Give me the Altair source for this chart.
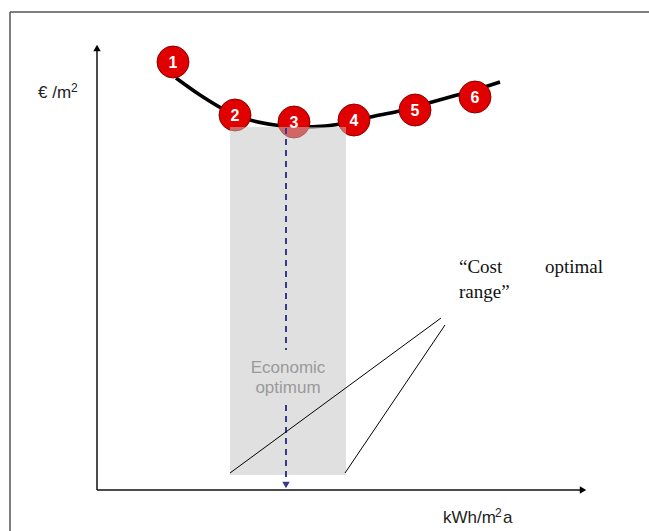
import altair as alt
import pandas as pd

W, H = 649, 531

# Diagram coordinates (x to the right, y downward, same units as the picture)
point_labels = ["1", "2", "3", "4", "5", "6"]
point_x = [173, 235, 294, 354, 415, 475]
point_y = [62, 115, 122, 120, 110, 97]

curve_x = [176, 200, 225, 250, 275, 300, 325, 350, 375, 400, 425, 450, 475, 500]
curve_y = [78, 95, 110, 120, 125, 127, 126, 122, 116, 111, 104, 97, 90, 82]

range_x = [230, 346]
range_y = [127, 475]

optimum_x = 286
optimum_seg_y1 = [128, 405]
optimum_seg_y2 = [350, 482]

fan_x1 = [230, 345]
fan_y1 = [473, 473]
fan_x2 = [441, 445]
fan_y2 = [318, 325]

axis_origin = (97, 490)
axis_y_top = 50
axis_x_end = 580

frame_left, frame_top = 10, 12

xs = alt.Scale(domain=[0, W], range=[0, W])


def X(f="x"):
    return alt.X(f"{f}:Q", scale=xs, axis=None)


def Y(f="y"):
    return alt.Y(f"{f}:Q", scale=alt.Scale(domain=[H, 0]), axis=None)


pts = pd.DataFrame({"x": point_x, "y": point_y, "label": point_labels})
curve = pd.DataFrame({"x": curve_x, "y": curve_y})
rect = pd.DataFrame({"x": [range_x[0]], "x2": [range_x[1]], "y": [range_y[0]], "y2": [range_y[1]]})
fan = pd.DataFrame({"x": fan_x1, "y": fan_y1, "x2": fan_x2, "y2": fan_y2})
opt = pd.DataFrame({"x": [optimum_x, optimum_x], "y": optimum_seg_y1, "y2": optimum_seg_y2})
axes = pd.DataFrame({
    "x": [axis_origin[0], axis_origin[0]],
    "y": [axis_origin[1], axis_origin[1]],
    "x2": [axis_origin[0], axis_x_end],
    "y2": [axis_y_top, axis_origin[1]],
})
frame = pd.DataFrame({
    "x": [frame_left, frame_left],
    "y": [frame_top, frame_top],
    "x2": [frame_left, W],
    "y2": [H, frame_top],
})
arrows = pd.DataFrame({
    "x": [axis_origin[0], axis_x_end + 3, optimum_x],
    "y": [axis_y_top - 2, axis_origin[1], optimum_seg_y2[1] + 3],
    "shape": ["triangle-up", "triangle-right", "triangle-down"],
    "color": ["black", "black", "#3a3a8c"],
})

frame_l = alt.Chart(frame).mark_rule(color="#555555", strokeWidth=1.5).encode(
    x=X(), y=Y(), x2="x2:Q", y2="y2:Q")
axes_l = alt.Chart(axes).mark_rule(color="#111111", strokeWidth=1.5).encode(
    x=X(), y=Y(), x2="x2:Q", y2="y2:Q")
arrow_l = alt.Chart(arrows).mark_point(filled=True, size=55, opacity=1).encode(
    x=X(), y=Y(), shape=alt.Shape("shape:N", scale=None, legend=None),
    color=alt.Color("color:N", scale=None, legend=None))

curve_l = alt.Chart(curve).mark_line(color="black", strokeWidth=3.5, interpolate="monotone").encode(
    x=X(), y=Y())
circ_l = alt.Chart(pts).mark_point(filled=True, size=1020, color="#e10000", opacity=1,
                                   stroke="#8a0000", strokeWidth=1).encode(x=X(), y=Y())
num_l = alt.Chart(pts).mark_text(color="white", fontSize=16, fontWeight="bold",
                                 font="Liberation Sans Narrow, Liberation Sans", dy=1).encode(
    x=X(), y=Y(), text="label:N")

rect_l = alt.Chart(rect).mark_rect(color="#c4c4c4", opacity=0.52).encode(
    x=X(), x2="x2:Q", y=Y(), y2="y2:Q")
opt_l = alt.Chart(opt).mark_rule(color="#3a3a8c", strokeWidth=2, strokeDash=[6, 5]).encode(
    x=X(), y=Y(), y2="y2:Q")
fan_l = alt.Chart(fan).mark_rule(color="black", strokeWidth=1).encode(
    x=X(), y=Y(), x2="x2:Q", y2="y2:Q")

texts = pd.DataFrame({
    "x": [38, 443, 503],
    "y": [93, 518, 518],
    "t": ["€ /m", "kWh/m", "a"],
})
txt_l = alt.Chart(texts).mark_text(align="left", baseline="middle", fontSize=17,
                                   font="Liberation Sans", color="#222222").encode(
    x=X(), y=Y(), text="t:N")
sup = pd.DataFrame({"x": [71, 495], "y": [88, 513], "t": ["2", "2"]})
sup_l = alt.Chart(sup).mark_text(align="left", baseline="middle", fontSize=12,
                                 font="Liberation Sans", color="#222222").encode(
    x=X(), y=Y(), text="t:N")

econ = pd.DataFrame({"x": [288, 288], "y": [368, 388], "t": ["Economic", "optimum"]})
econ_l = alt.Chart(econ).mark_text(align="center", baseline="middle", fontSize=17,
                                   font="Liberation Sans", color="#9a9a9a").encode(
    x=X(), y=Y(), text="t:N")

cost = pd.DataFrame({"x": [459, 545, 459], "y": [267, 267, 292],
                     "t": ["\u201cCost", "optimal", "range\u201d"]})
cost_l = alt.Chart(cost).mark_text(align="left", baseline="middle", fontSize=19,
                                   font="Liberation Serif", color="#111111").encode(
    x=X(), y=Y(), text="t:N")

chart = alt.layer(
    frame_l, axes_l, arrow_l, curve_l, circ_l, num_l, rect_l, opt_l, fan_l,
    txt_l, sup_l, econ_l, cost_l
).properties(
    width=W, height=H, padding=0, autosize=alt.AutoSizeParams(type="none"),
    background="white"
).configure_view(stroke=None)

chart.save("out.html", embed_options={"renderer": "svg", "actions": False})
